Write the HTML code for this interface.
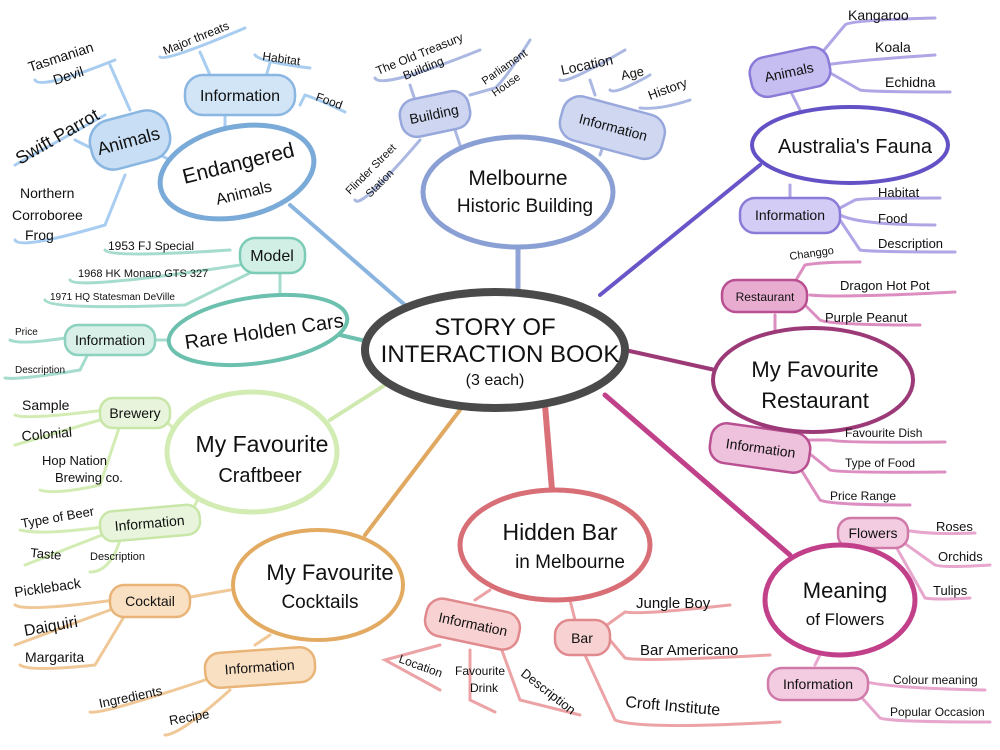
<!DOCTYPE html>
<html><head><meta charset="utf-8"><style>
html,body{margin:0;padding:0;background:#fff;}
svg{display:block;font-family:"Liberation Sans",sans-serif;}
text{fill:#111;}
</style></head><body>
<svg width="1000" height="750" viewBox="0 0 1000 750" xmlns="http://www.w3.org/2000/svg">
<g fill="none" stroke-linecap="round">
<line x1="290" y1="205" x2="405" y2="305" stroke="#8ab4e0" stroke-width="4"/>
<line x1="518" y1="245" x2="518" y2="290" stroke="#8fa3d6" stroke-width="5"/>
<line x1="600" y1="295" x2="760" y2="165" stroke="#6a55c8" stroke-width="4"/>
<line x1="625" y1="350" x2="715" y2="370" stroke="#9c3a78" stroke-width="4"/>
<line x1="605" y1="395" x2="790" y2="555" stroke="#c0408a" stroke-width="5"/>
<line x1="545" y1="405" x2="552" y2="490" stroke="#da7078" stroke-width="6"/>
<line x1="460" y1="410" x2="365" y2="535" stroke="#e0a860" stroke-width="4"/>
<line x1="385" y1="385" x2="330" y2="420" stroke="#cfe9b0" stroke-width="4"/>
<line x1="340" y1="335" x2="370" y2="342" stroke="#6cc0ae" stroke-width="4"/>

<g stroke="#a8cdf0" stroke-width="3">
<path d="M35 80 Q40 90 115 60 M110 65 L130 110"/>
<path d="M15 165 L105 115 M75 140 L95 150"/>
<path d="M15 240 Q20 250 105 225 L125 175"/>
<path d="M160 57 Q165 62 245 28 M200 52 L210 75"/>
<path d="M255 55 Q260 62 310 68 M270 63 L265 80"/>
<path d="M305 95 Q320 100 345 112 M300 105 L305 95"/>
<line x1="225" y1="115" x2="225" y2="130"/>
<line x1="160" y1="155" x2="180" y2="165"/>
</g>
<g stroke="#aab8e2" stroke-width="3">
<path d="M375 78 Q380 90 480 50 M410 85 L415 100"/>
<path d="M470 95 L495 88 Q505 80 530 40"/>
<path d="M355 200 Q360 210 420 140"/>
<path d="M560 80 Q565 85 625 50 M590 80 L595 95"/>
<path d="M610 90 Q615 95 650 75"/>
<path d="M640 108 Q660 110 690 100"/>
<line x1="455" y1="130" x2="460" y2="145"/>
<line x1="605" y1="140" x2="600" y2="155"/>
</g>
<g stroke="#b1a5e6" stroke-width="3">
<path d="M820 55 L845 25 Q850 20 935 18"/>
<path d="M825 65 Q860 60 935 55"/>
<path d="M825 70 L860 90 Q870 92 950 92"/>
<path d="M840 208 L855 200 Q860 198 940 198"/>
<path d="M840 215 Q860 225 935 225"/>
<path d="M840 220 L860 250 Q870 252 955 252"/>
<line x1="790" y1="90" x2="800" y2="110"/>
<line x1="790" y1="185" x2="790" y2="200"/>
</g>
<g stroke="#dc8ec0" stroke-width="3">
<path d="M790 290 L805 265 Q820 262 860 262"/>
<path d="M810 295 Q840 298 955 292"/>
<path d="M805 305 L820 320 Q830 325 920 325"/>
<line x1="775" y1="315" x2="775" y2="330"/>
<path d="M805 440 L830 440 Q840 443 945 442"/>
<path d="M805 450 L830 470 Q840 473 945 472"/>
<path d="M795 460 L820 500 Q830 505 910 505"/>
<line x1="770" y1="428" x2="775" y2="430"/>
</g>
<g stroke="#e7a6cd" stroke-width="3">
<path d="M905 530 Q930 535 975 533"/>
<path d="M900 540 L935 565 Q945 568 990 565"/>
<path d="M895 545 L925 598 Q935 600 970 598"/>
<line x1="860" y1="550" x2="855" y2="560"/>
<path d="M860 680 Q880 688 985 690"/>
<path d="M855 690 L880 718 Q890 722 990 722"/>
<line x1="815" y1="665" x2="820" y2="655"/>
</g>
<g stroke="#eca3a6" stroke-width="3">
<path d="M440 645 L385 660 L440 690"/>
<path d="M470 650 L470 700 L495 712"/>
<path d="M500 645 L520 700 L580 715"/>
<line x1="475" y1="600" x2="490" y2="590"/>
<path d="M600 630 L625 612 Q640 615 730 605"/>
<path d="M610 640 L625 658 Q640 662 770 655"/>
<path d="M585 655 L615 720 Q640 730 780 722"/>
<line x1="575" y1="620" x2="570" y2="600"/>
</g>
<g stroke="#f0c898" stroke-width="3">
<path d="M15 605 Q25 612 115 600"/>
<path d="M15 645 L110 610"/>
<path d="M20 665 Q30 672 95 665 L125 615"/>
<line x1="185" y1="598" x2="230" y2="590"/>
<path d="M90 712 Q100 715 205 680"/>
<path d="M165 735 Q180 735 230 690"/>
<line x1="255" y1="645" x2="270" y2="635"/>
</g>
<g stroke="#d2ecb4" stroke-width="3">
<path d="M15 415 Q25 420 105 410"/>
<path d="M15 445 L100 420"/>
<path d="M40 490 Q55 495 100 485 L120 425"/>
<line x1="160" y1="415" x2="175" y2="430"/>
<path d="M20 530 Q40 535 95 528 L115 525"/>
<path d="M25 565 L115 530"/>
<path d="M90 572 Q110 572 120 540"/>
<line x1="190" y1="515" x2="200" y2="495"/>
</g>
<g stroke="#a6dccd" stroke-width="3">
<path d="M105 250 Q110 258 230 250"/>
<path d="M70 280 Q75 290 240 265"/>
<path d="M45 300 Q50 310 185 305 L260 268"/>
<line x1="280" y1="272" x2="280" y2="300"/>
<path d="M10 340 Q20 345 65 338"/>
<path d="M5 378 Q20 380 80 370 L90 350"/>
<line x1="150" y1="340" x2="170" y2="340"/>
</g>

<g stroke-width="2.5">
<rect x="90" y="115" width="80" height="50" rx="22" fill="#c8def4" stroke="#8ab6e2" transform="rotate(-15 130 140)"/>
<rect x="185" y="75" width="110" height="40" rx="18" fill="#d2e5f7" stroke="#8ab6e2"/>
<rect x="400" y="95" width="70" height="38" rx="16" fill="#cdd5f0" stroke="#98a8dc" transform="rotate(-12 435 114)"/>
<rect x="560" y="105" width="105" height="45" rx="18" fill="#cfd7f1" stroke="#98a8dc" transform="rotate(15 612 127)"/>
<rect x="750" y="52" width="80" height="40" rx="16" fill="#c6bdf0" stroke="#8c7ad8" transform="rotate(-12 790 72)"/>
<rect x="740" y="198" width="100" height="35" rx="15" fill="#d3ccf4" stroke="#8c7ad8"/>
<rect x="722" y="280" width="85" height="32" rx="14" fill="#e7acd0" stroke="#b95092"/>
<rect x="710" y="428" width="100" height="40" rx="16" fill="#eec2dc" stroke="#b95092" transform="rotate(8 760 448)"/>
<rect x="838" y="518" width="70" height="30" rx="13" fill="#f3cce2" stroke="#d07aaa"/>
<rect x="768" y="668" width="100" height="32" rx="14" fill="#f3cce2" stroke="#d07aaa"/>
<rect x="425" y="605" width="95" height="38" rx="16" fill="#f8d2d2" stroke="#e08a8e" transform="rotate(12 472 624)"/>
<rect x="555" y="620" width="55" height="35" rx="15" fill="#f8d2d2" stroke="#e08a8e"/>
<rect x="110" y="585" width="80" height="32" rx="14" fill="#fae0c2" stroke="#e8b478"/>
<rect x="205" y="650" width="110" height="35" rx="15" fill="#fae0c2" stroke="#e8b478" transform="rotate(-4 260 667)"/>
<rect x="100" y="398" width="70" height="30" rx="13" fill="#e8f5dc" stroke="#c8e6a8"/>
<rect x="100" y="508" width="100" height="30" rx="13" fill="#e8f5dc" stroke="#c8e6a8" transform="rotate(-5 150 523)"/>
<rect x="240" y="238" width="65" height="35" rx="15" fill="#d2efe6" stroke="#7ccbb6"/>
<rect x="65" y="325" width="90" height="30" rx="13" fill="#d8f0e8" stroke="#8cd0be"/>
</g>

<ellipse cx="495" cy="350" rx="130" ry="58" stroke="#4a4a4a" stroke-width="8" fill="#fff"/>
<ellipse cx="237" cy="172" rx="78" ry="45" stroke="#7aaad8" stroke-width="5" fill="#fff" transform="rotate(-12 237 172)"/>
<ellipse cx="518" cy="192" rx="95" ry="55" stroke="#8a9fd4" stroke-width="5" fill="#fff"/>
<ellipse cx="850" cy="145" rx="98" ry="38" stroke="#6352c6" stroke-width="4" fill="#fff"/>
<ellipse cx="813" cy="380" rx="100" ry="52" stroke="#9c3a78" stroke-width="4" fill="#fff"/>
<ellipse cx="840" cy="600" rx="75" ry="55" stroke="#c2408a" stroke-width="5" fill="#fff"/>
<ellipse cx="555" cy="545" rx="95" ry="55" stroke="#d86e76" stroke-width="5" fill="#fff"/>
<ellipse cx="318" cy="585" rx="85" ry="55" stroke="#e3aa62" stroke-width="4" fill="#fff"/>
<ellipse cx="252" cy="452" rx="85" ry="60" stroke="#d2ecb4" stroke-width="5" fill="#fff"/>
<ellipse cx="258" cy="330" rx="90" ry="33" stroke="#6cc0ae" stroke-width="4" fill="#fff" transform="rotate(-8 258 330)"/>
</g>

<g text-anchor="middle">
<text x="495" y="335" font-size="24">STORY OF</text>
<text x="500" y="362" font-size="24">INTERACTION BOOK</text>
<text x="495" y="385" font-size="16">(3 each)</text>
<text x="240" y="170" font-size="21" transform="rotate(-14 240 170)">Endangered</text>
<text x="245" y="198" font-size="16" transform="rotate(-14 245 198)">Animals</text>
<text x="518" y="185" font-size="21">Melbourne</text>
<text x="525" y="212" font-size="19">Historic Building</text>
<text x="855" y="153" font-size="20">Australia's Fauna</text>
<text x="815" y="377" font-size="22">My Favourite</text>
<text x="815" y="408" font-size="22">Restaurant</text>
<text x="845" y="598" font-size="22">Meaning</text>
<text x="845" y="625" font-size="17">of Flowers</text>
<text x="560" y="540" font-size="23">Hidden Bar</text>
<text x="570" y="568" font-size="19">in Melbourne</text>
<text x="330" y="580" font-size="22">My Favourite</text>
<text x="320" y="608" font-size="19">Cocktails</text>
<text x="262" y="452" font-size="23">My Favourite</text>
<text x="260" y="482" font-size="20">Craftbeer</text>
<text x="265" y="338" font-size="20" transform="rotate(-8 265 338)">Rare Holden Cars</text>
</g>

<g font-size="14" text-anchor="middle">
<text x="130" y="147" font-size="18" transform="rotate(-15 130 147)">Animals</text>
<text x="240" y="101" font-size="16">Information</text>
<text x="435" y="119" transform="rotate(-12 435 119)">Building</text>
<text x="612" y="132" transform="rotate(15 612 132)">Information</text>
<text x="790" y="77" transform="rotate(-12 790 77)">Animals</text>
<text x="790" y="220">Information</text>
<text x="765" y="301" font-size="12">Restaurant</text>
<text x="760" y="453" transform="rotate(8 760 453)">Information</text>
<text x="873" y="538">Flowers</text>
<text x="818" y="689">Information</text>
<text x="472" y="629" transform="rotate(12 472 629)">Information</text>
<text x="582" y="643">Bar</text>
<text x="150" y="606">Cocktail</text>
<text x="260" y="672" transform="rotate(-4 260 672)">Information</text>
<text x="135" y="418">Brewery</text>
<text x="150" y="528" transform="rotate(-5 150 528)">Information</text>
<text x="272" y="261" font-size="16">Model</text>
<text x="110" y="345">Information</text>
</g>

<g font-size="14">
<text x="30" y="72" transform="rotate(-18 30 72)">Tasmanian</text>
<text x="55" y="85" transform="rotate(-18 55 85)">Devil</text>
<text x="20" y="165" font-size="18" transform="rotate(-30 20 165)">Swift Parrot</text>
<text x="20" y="198">Northern</text>
<text x="12" y="220">Corroboree</text>
<text x="25" y="240">Frog</text>
<text x="165" y="55" font-size="12" transform="rotate(-22 165 55)">Major threats</text>
<text x="262" y="60" font-size="12" transform="rotate(8 262 60)">Habitat</text>
<text x="315" y="100" font-size="12" transform="rotate(20 315 100)">Food</text>
<text x="378" y="75" font-size="12" transform="rotate(-22 378 75)">The Old Treasury</text>
<text x="405" y="80" font-size="12" transform="rotate(-22 405 80)">Building</text>
<text x="485" y="85" font-size="11" transform="rotate(-35 485 85)">Parliament</text>
<text x="495" y="97" font-size="11" transform="rotate(-35 495 97)">House</text>
<text x="350" y="195" font-size="11" transform="rotate(-45 350 195)">Flinder Street</text>
<text x="370" y="198" font-size="11" transform="rotate(-45 370 198)">Station</text>
<text x="562" y="75" transform="rotate(-12 562 75)">Location</text>
<text x="622" y="80" font-size="13" transform="rotate(-12 622 80)">Age</text>
<text x="650" y="100" font-size="13" transform="rotate(-20 650 100)">History</text>
<text x="848" y="20">Kangaroo</text>
<text x="875" y="52">Koala</text>
<text x="885" y="87">Echidna</text>
<text x="878" y="197" font-size="13">Habitat</text>
<text x="878" y="223" font-size="13">Food</text>
<text x="878" y="248" font-size="13">Description</text>
<text x="790" y="260" font-size="11" transform="rotate(-8 790 260)">Changgo</text>
<text x="840" y="290" font-size="13">Dragon Hot Pot</text>
<text x="825" y="322" font-size="13">Purple Peanut</text>
<text x="845" y="437" font-size="12">Favourite Dish</text>
<text x="845" y="467" font-size="12">Type of Food</text>
<text x="830" y="500" font-size="12">Price Range</text>
<text x="936" y="531" font-size="13">Roses</text>
<text x="938" y="561" font-size="13">Orchids</text>
<text x="933" y="595" font-size="13">Tulips</text>
<text x="893" y="684" font-size="12">Colour meaning</text>
<text x="890" y="716" font-size="12">Popular Occasion</text>
<text x="398" y="662" font-size="12" transform="rotate(20 398 662)">Location</text>
<text x="455" y="675" font-size="12">Favourite</text>
<text x="470" y="692" font-size="12">Drink</text>
<text x="520" y="675" font-size="13" transform="rotate(38 520 675)">Description</text>
<text x="636" y="608" font-size="15">Jungle Boy</text>
<text x="640" y="655" font-size="15">Bar Americano</text>
<text x="625" y="707" font-size="16" transform="rotate(5 625 707)">Croft Institute</text>
<text x="15" y="597" transform="rotate(-8 15 597)">Pickleback</text>
<text x="25" y="636" font-size="16" transform="rotate(-10 25 636)">Daiquiri</text>
<text x="25" y="662">Margarita</text>
<text x="100" y="708" font-size="13" transform="rotate(-12 100 708)">Ingredients</text>
<text x="170" y="725" font-size="13" transform="rotate(-10 170 725)">Recipe</text>
<text x="22" y="410">Sample</text>
<text x="22" y="441" transform="rotate(-5 22 441)">Colonial</text>
<text x="42" y="465" font-size="13">Hop Nation</text>
<text x="55" y="482" font-size="13">Brewing co.</text>
<text x="22" y="528" font-size="13" transform="rotate(-10 22 528)">Type of Beer</text>
<text x="30" y="557" font-size="13" transform="rotate(5 30 557)">Taste</text>
<text x="90" y="560" font-size="11">Description</text>
<text x="108" y="250" font-size="12">1953 FJ Special</text>
<text x="78" y="277" font-size="11">1968 HK Monaro GTS 327</text>
<text x="50" y="300" font-size="10">1971 HQ Statesman DeVille</text>
<text x="15" y="335" font-size="10">Price</text>
<text x="15" y="373" font-size="10">Description</text>
</g>
</svg>
</body></html>
